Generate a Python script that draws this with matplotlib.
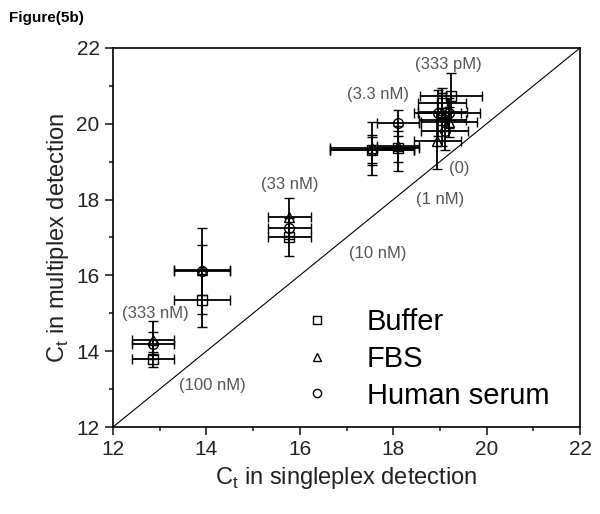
import matplotlib
matplotlib.use('Agg')
from matplotlib import pyplot as plt
from matplotlib.ticker import MultipleLocator

plt.rcParams['font.family'] = ['Liberation Sans', 'DejaVu Sans']

# Ct values: singleplex (x) vs multiplex (y), one entry per concentration
buffer_x = [12.86, 13.90, 15.77, 17.55, 18.10, 19.04, 19.24, 19.05]
buffer_y = [13.79, 15.35, 17.01, 19.30, 19.35, 20.55, 20.72, 20.10]
buffer_xerr = [0.44, 0.60, 0.46, 0.90, 0.45, 0.52, 0.66, 0.50]
buffer_yerr = [0.20, 0.70, 0.50, 0.40, 0.60, 0.40, 0.62, 0.70]

fbs_x = [12.86, 13.90, 15.77, 17.55, 18.10, 18.94, 19.20, 19.05]
fbs_y = [14.30, 16.14, 17.54, 19.35, 19.40, 19.55, 20.05, 20.30]
fbs_xerr = [0.44, 0.60, 0.46, 0.90, 0.45, 0.50, 0.60, 0.52]
fbs_yerr = [0.50, 0.66, 0.50, 0.70, 0.40, 0.75, 0.40, 0.50]

serum_x = [12.86, 13.90, 15.77, 17.55, 18.10, 18.95, 19.20, 19.10]
serum_y = [14.20, 16.12, 17.25, 19.30, 20.02, 20.28, 20.28, 19.80]
serum_xerr = [0.44, 0.60, 0.46, 0.90, 0.45, 0.50, 0.66, 0.50]
serum_yerr = [0.30, 1.13, 0.30, 0.35, 0.35, 0.60, 0.40, 0.50]

# concentration labels as placed in the original figure
conc_labels = ['(333 pM)', '(3.3 nM)', '(0)', '(1 nM)', '(10 nM)',
               '(33 nM)', '(333 nM)', '(100 nM)']
conc_x = [19.17, 17.67, 19.41, 19.00, 17.67, 15.79, 12.92, 14.14]
conc_y = [21.55, 20.76, 18.83, 17.99, 16.59, 18.39, 15.00, 13.10]

fig = plt.figure(figsize=(6.0, 5.14), dpi=100)
ax = fig.add_axes([0.188, 0.169, 0.779, 0.738])

ax.plot([12, 22], [12, 22], color='black', lw=0.8)

series = [
    (buffer_x, buffer_y, buffer_xerr, buffer_yerr, 's', 'Buffer'),
    (fbs_x, fbs_y, fbs_xerr, fbs_yerr, '^', 'FBS'),
    (serum_x, serum_y, serum_xerr, serum_yerr, 'o', 'Human serum'),
]
for x, y, xe, ye, m, name in series:
    ax.errorbar(x, y, xerr=xe, yerr=ye, fmt=m, mfc='none', mec='black',
                ms=7, mew=1.0, ecolor='black', elinewidth=1.3, capsize=3.5,
                capthick=1.3, label=name)

for txt, tx, ty in zip(conc_labels, conc_x, conc_y):
    ax.text(tx, ty, txt, ha='center', va='center', fontsize=12, color='#555555')

ax.set_xlim(12, 22)
ax.set_ylim(12, 22)
ax.xaxis.set_major_locator(MultipleLocator(2))
ax.xaxis.set_minor_locator(MultipleLocator(1))
ax.yaxis.set_major_locator(MultipleLocator(2))
ax.yaxis.set_minor_locator(MultipleLocator(1))
ax.tick_params(which='both', direction='out', top=False, right=False,
               labelsize=15, width=1.2, colors='#222222')
ax.tick_params(which='major', length=6)
ax.tick_params(which='minor', length=3)
for sp in ax.spines.values():
    sp.set_linewidth(1.2)

ax.set_xlabel('C$_\\mathregular{t}$ in singleplex detection', fontsize=17,
              color='#222222')
ax.set_ylabel('C$_\\mathregular{t}$ in multiplex detection', fontsize=17,
              color='#222222')

handles, labels = ax.get_legend_handles_labels()
handles = [h[0] for h in handles]
ax.legend(handles, labels, loc='center left', bbox_to_anchor=(0.375, 0.18),
          frameon=False, fontsize=21, handlelength=1.0, handletextpad=1.2,
          markerscale=0.85, labelspacing=0.3, borderpad=0)

fig.text(0.015, 0.965, 'Figure(5b)', fontsize=11, fontweight='bold',
         ha='left', va='center')

fig.savefig('out.png', dpi=100)
